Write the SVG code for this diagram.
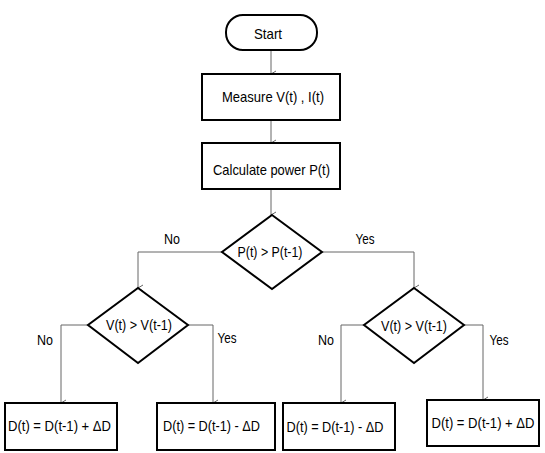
<svg xmlns="http://www.w3.org/2000/svg" width="545" height="453" viewBox="0 0 545 453">
<style>
.n{fill:#fff;stroke:#000;stroke-width:2}
.t{font-family:"Liberation Sans",Arial,sans-serif;font-size:14.5px;fill:#000;text-anchor:middle}
.c{fill:none;stroke:#666;stroke-width:1}
</style>
<defs>
<marker id="a" markerWidth="10" markerHeight="10" refX="5" refY="8" orient="auto-start-reverse" markerUnits="userSpaceOnUse" viewBox="0 0 10 10">
<path d="M2,3 L5,8 L8,3" fill="none" stroke="#666" stroke-width="1"/>
</marker>
</defs>
<rect width="545" height="453" fill="#fff"/>
<g id="connectors">
<path class="c" d="M271,50 V74" marker-end="url(#a)"/>
<path class="c" d="M271,120 V143" marker-end="url(#a)"/>
<path class="c" d="M271,189 V215" marker-end="url(#a)"/>
<path class="c" d="M222,252 H138 V288" marker-end="url(#a)"/>
<path class="c" d="M322,252 H414 V288" marker-end="url(#a)"/>
<path class="c" d="M88,325 H61 V403" marker-end="url(#a)"/>
<path class="c" d="M188,325 H213 V403" marker-end="url(#a)"/>
<path class="c" d="M364,325 H341 V403" marker-end="url(#a)"/>
<path class="c" d="M464,325 H483 V400" marker-end="url(#a)"/>
<text class="t" x="172" y="244" textLength="16" lengthAdjust="spacingAndGlyphs">No</text>
<text class="t" x="365" y="244" textLength="19" lengthAdjust="spacingAndGlyphs">Yes</text>
<text class="t" x="45" y="345" textLength="16" lengthAdjust="spacingAndGlyphs">No</text>
<text class="t" x="227" y="343" textLength="19" lengthAdjust="spacingAndGlyphs">Yes</text>
<text class="t" x="326" y="345" textLength="16" lengthAdjust="spacingAndGlyphs">No</text>
<text class="t" x="499" y="345" textLength="19" lengthAdjust="spacingAndGlyphs">Yes</text>
</g>
<g id="start">
<rect class="n" x="226" y="15" width="91" height="35" rx="17" ry="17"/>
<text class="t" x="268" y="39" textLength="28" lengthAdjust="spacingAndGlyphs">Start</text>
</g>
<g id="measure">
<rect class="n" x="202" y="74" width="138" height="46"/>
<text class="t" x="273" y="102" textLength="102" lengthAdjust="spacingAndGlyphs">Measure V(t) , I(t)</text>
</g>
<g id="calc">
<rect class="n" x="202" y="143" width="138" height="46"/>
<text class="t" x="271.5" y="175" textLength="117" lengthAdjust="spacingAndGlyphs">Calculate power P(t)</text>
</g>
<g id="d1">
<polygon class="n" points="272,215 322,252 272,289 222,252"/>
<text class="t" x="270" y="257" textLength="65" lengthAdjust="spacingAndGlyphs">P(t) &gt; P(t-1)</text>
</g>
<g id="d2">
<polygon class="n" points="138,288 188,325 138,363 88,325"/>
<text class="t" x="139" y="330" textLength="66" lengthAdjust="spacingAndGlyphs">V(t) &gt; V(t-1)</text>
</g>
<g id="d3">
<polygon class="n" points="414,288 464,325 414,363 364,325"/>
<text class="t" x="414" y="331" textLength="66" lengthAdjust="spacingAndGlyphs">V(t) &gt; V(t-1)</text>
</g>
<g id="b1">
<rect class="n" x="5" y="403" width="112" height="47"/>
<text class="t" x="59.5" y="431" textLength="103" lengthAdjust="spacingAndGlyphs">D(t) = D(t-1) + ΔD</text>
</g>
<g id="b2">
<rect class="n" x="157" y="403" width="118" height="47"/>
<text class="t" x="211.5" y="431" textLength="97" lengthAdjust="spacingAndGlyphs">D(t) = D(t-1) - ΔD</text>
</g>
<g id="b3">
<rect class="n" x="283" y="403" width="112" height="47"/>
<text class="t" x="335" y="432" textLength="97" lengthAdjust="spacingAndGlyphs">D(t) = D(t-1) - ΔD</text>
</g>
<g id="b4">
<rect class="n" x="427" y="400" width="112" height="46"/>
<text class="t" x="483" y="428" textLength="103" lengthAdjust="spacingAndGlyphs">D(t) = D(t-1) + ΔD</text>
</g>
</svg>
